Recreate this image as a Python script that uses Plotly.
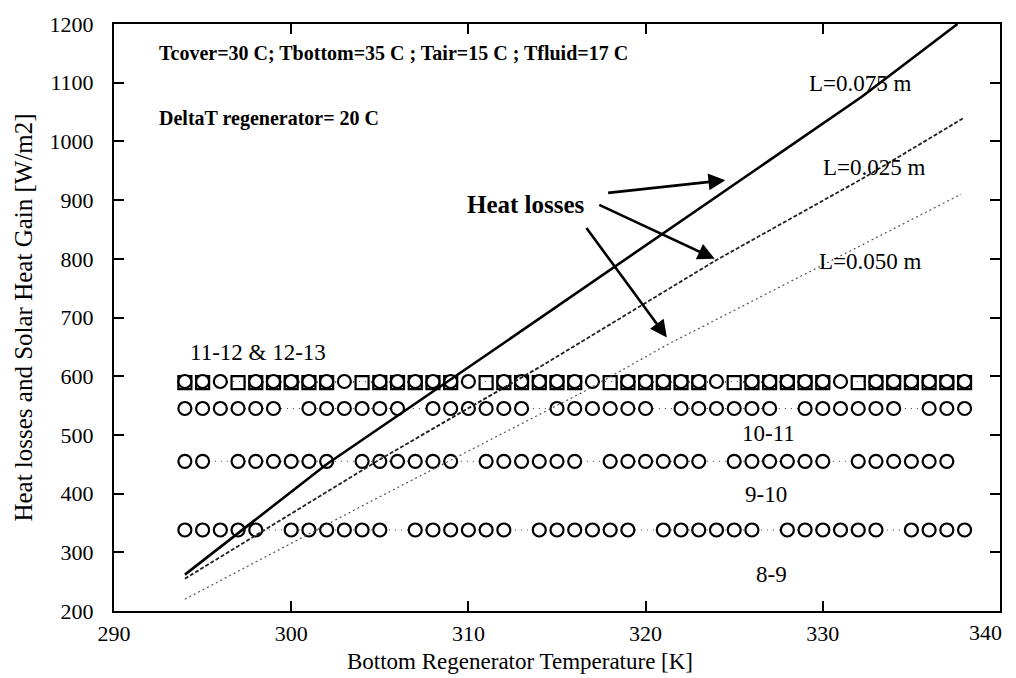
import plotly.graph_objects as go

# ---------------- data ----------------
# Heat-loss lines (x in K, y in W/m2)
l075_x = [294.0, 302.0, 311.2, 320.9, 332.2, 337.6]
l075_y = [262, 450, 640, 842, 1076, 1200]

l025_x = [294.0, 305.1, 314.1, 324.0, 332.2, 337.9]
l025_y = [255, 460, 617, 798, 936, 1039]

l050_x = [294.0, 304.7, 316.4, 321.3, 337.8]
l050_y = [220, 390, 572, 655, 910]

# Solar heat gain rows (markers at 1 K steps, some positions absent)
row_1112_x = [294, 295, 296, 298, 299, 300, 301, 302, 303, 305, 306, 307, 308, 309, 310,
              312, 313, 314, 315, 316, 317, 319, 320, 321, 322, 323, 324, 326, 327, 328,
              329, 330, 331, 333, 334, 335, 336, 337, 338]
row_1112_y = [591] * len(row_1112_x)

row_1213_x = [294, 295, 297, 298, 299, 300, 301, 302, 304, 305, 306, 307, 308, 309, 311,
              312, 313, 314, 315, 316, 318, 319, 320, 321, 322, 323, 325, 326, 327, 328,
              329, 330, 332, 333, 334, 335, 336, 337, 338]
row_1213_y = [589] * len(row_1213_x)

row_1011_x = [294, 295, 296, 297, 298, 299, 301, 302, 303, 304, 305, 306, 308, 309, 310,
              311, 312, 313, 315, 316, 317, 318, 319, 320, 322, 323, 324, 325, 326, 327,
              329, 330, 331, 332, 333, 334, 336, 337, 338]
row_1011_y = [545] * len(row_1011_x)

row_910_x = [294, 295, 297, 298, 299, 300, 301, 302, 304, 305, 306, 307, 308, 309, 311,
             312, 313, 314, 315, 316, 318, 319, 320, 321, 322, 323, 325, 326, 327, 328,
             329, 330, 332, 333, 334, 335, 336, 337]
row_910_y = [455] * len(row_910_x)

row_89_x = [294, 295, 296, 297, 298, 300, 301, 302, 303, 304, 305, 307, 308, 309, 310,
            311, 312, 314, 315, 316, 317, 318, 319, 321, 322, 323, 324, 325, 326, 328,
            329, 330, 331, 332, 333, 335, 336, 337, 338]
row_89_y = [338] * len(row_89_x)

x_ticks = [290, 300, 310, 320, 330, 340]
x_tick_labels = ["290", "300", "310", "320", "330", "340"]
y_ticks = [200, 300, 400, 500, 600, 700, 800, 900, 1000, 1100, 1200]

FONT = "Liberation Serif"

fig = go.Figure()

# dotted connecting lines + open markers for the rows
def add_row(xs, ys, symbol, size):
    fig.add_trace(go.Scatter(
        x=xs, y=ys, mode="lines+markers",
        line=dict(color="#444444", width=1, dash="1px,5px"),
        marker=dict(symbol=symbol, size=size, color="white",
                    line=dict(color="black", width=2.2)),
        showlegend=False, hoverinfo="skip"))

add_row(row_1213_x, row_1213_y, "square", 13)
add_row(row_1112_x, row_1112_y, "circle", 13)
add_row(row_1011_x, row_1011_y, "circle", 13)
add_row(row_910_x, row_910_y, "circle", 13)
add_row(row_89_x, row_89_y, "circle", 13)

# heat-loss lines
fig.add_trace(go.Scatter(x=l050_x, y=l050_y, mode="lines",
                         line=dict(color="#555555", width=1.2, dash="2px,3px"),
                         showlegend=False))
fig.add_trace(go.Scatter(x=l025_x, y=l025_y, mode="lines",
                         line=dict(color="#222222", width=1.8, dash="4px,2px"),
                         showlegend=False))
fig.add_trace(go.Scatter(x=l075_x, y=l075_y, mode="lines",
                         line=dict(color="black", width=2.6),
                         showlegend=False))

texts = [
    dict(x=292.4, y=1151, text="<b>Tcover=30 C; Tbottom=35 C ; Tair=15 C ; Tfluid=17 C</b>", size=20),
    dict(x=292.4, y=1039, text="<b>DeltaT regenerator= 20 C</b>", size=20),
    dict(x=329.1, y=1098, text="L=0.075 m", size=23),
    dict(x=329.9, y=955, text="L=0.025 m", size=23),
    dict(x=329.7, y=795, text="L=0.050 m", size=23),
    dict(x=309.8, y=892, text="<b>Heat losses</b>", size=25),
    dict(x=294.2, y=641, text="11-12 &amp; 12-13", size=23),
    dict(x=325.3, y=503, text="10-11", size=23),
    dict(x=325.5, y=399, text="9-10", size=23),
    dict(x=326.1, y=262, text="8-9", size=23),
]
for t in texts:
    fig.add_annotation(x=t["x"], y=t["y"], xref="x", yref="y", text=t["text"],
                       showarrow=False, xanchor="left", yanchor="middle",
                       font=dict(family=FONT, size=t["size"], color="black"))

arrows = [
    ((317.8, 912), (324.5, 934)),
    ((317.3, 893), (323.9, 800)),
    ((316.6, 855), (321.2, 666)),
]
for (tx, ty), (hx, hy) in arrows:
    fig.add_annotation(x=hx, y=hy, ax=tx, ay=ty, xref="x", yref="y",
                       axref="x", ayref="y", text="", showarrow=True,
                       arrowhead=2, arrowsize=1.3, arrowwidth=2.6,
                       arrowcolor="black")

# last x tick label sits flush with the right axis (as in the reference)
fig.add_annotation(x=x_ticks[-1], y=-0.037, xref="x", yref="paper",
                   text=x_tick_labels[-1], showarrow=False,
                   xanchor="right", yanchor="middle", xshift=4,
                   font=dict(family=FONT, size=22, color="black"))
# x-axis title (placed left of centre, as in the reference)
fig.add_annotation(x=0.458, y=-0.086, xref="paper", yref="paper",
                   text="Bottom Regenerator Temperature [K]", showarrow=False,
                   xanchor="center", yanchor="middle",
                   font=dict(family=FONT, size=23, color="black"))

axis_common = dict(
    showline=True, linecolor="black", linewidth=2, mirror="ticks",
    ticks="inside", ticklen=10, tickwidth=2, tickcolor="black",
    showgrid=False, zeroline=False,
    tickfont=dict(family=FONT, size=22, color="black"),
)

fig.update_layout(
    width=1016, height=678,
    margin=dict(l=114, r=16, t=14, b=67),
    paper_bgcolor="white", plot_bgcolor="white",
    xaxis=dict(range=[290, 340], tickvals=x_ticks,
               ticktext=x_tick_labels[:-1] + [""],
               ticklabelstandoff=2, **axis_common),
    yaxis=dict(range=[200, 1200], tickvals=y_ticks,
               title=dict(text="Heat losses and Solar Heat Gain [W/m2]", standoff=10,
                          font=dict(family=FONT, size=25, color="black")),
               ticklabelstandoff=14, **axis_common),
)

fig.write_html("out.html")
